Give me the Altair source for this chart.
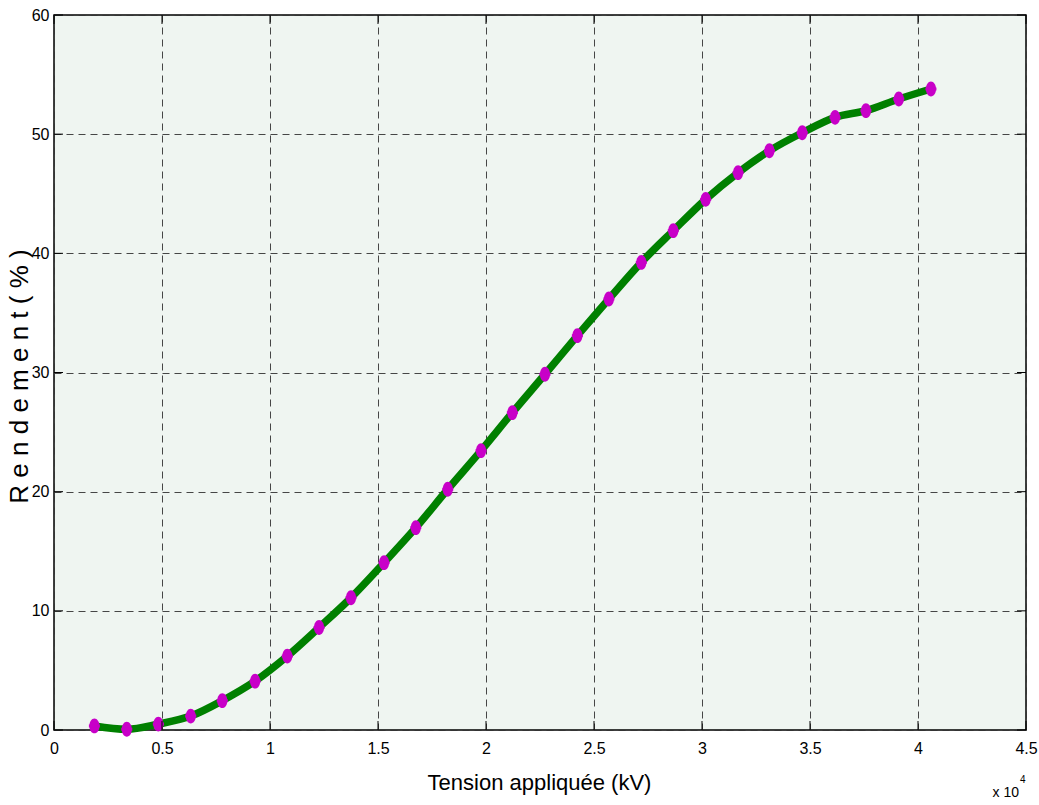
import altair as alt
import pandas as pd

# Data (x in volts, y in %)
tension = [1870, 3370, 4830, 6330, 7790, 9310, 10800, 12270, 13750, 15280,
           16750, 18230, 19770, 21220, 22730, 24230, 25690, 27190, 28670,
           30170, 31670, 33120, 34640, 36160, 37590, 39110, 40600]
rendement = [0.34, 0.06, 0.5, 1.17, 2.46, 4.1, 6.2, 8.6, 11.1, 14.04, 16.98,
             20.2, 23.44, 26.63, 29.85, 33.09, 36.17, 39.24, 41.9, 44.53,
             46.77, 48.61, 50.12, 51.41, 51.97, 52.95, 53.79]
x_ticks = [0, 5000, 10000, 15000, 20000, 25000, 30000, 35000, 40000, 45000]
y_ticks = [0, 10, 20, 30, 40, 50, 60]

W, H = 972, 715
FONT = "Liberation Sans"

df = pd.DataFrame({"x": tension, "y": rendement})
xt = pd.DataFrame({"v": x_ticks})
yt = pd.DataFrame({"v": y_ticks})

xscale = alt.Scale(domain=[0, 45000], nice=False, zero=False)
yscale = alt.Scale(domain=[0, 60], nice=False, zero=False)

xaxis = alt.Axis(values=x_ticks, labelExpr="datum.value / 10000", grid=True,
                 gridDash=[7, 5], gridColor="#333333", gridWidth=1, gridOpacity=0.9,
                 ticks=False, domain=False, labelFont=FONT, labelFontSize=16,
                 labelColor="black", labelPadding=10, labelFlush=False,
                 title="Tension appliquée (kV)", titleFont=FONT, titleFontSize=22,
                 titleFontWeight="normal", titleColor="black", titleBaseline="alphabetic",
                 titleY=59, titleX=485, titleAnchor="middle")
yaxis = alt.Axis(values=y_ticks, grid=True, gridDash=[7, 5], gridColor="#333333",
                 gridWidth=1, gridOpacity=0.9, ticks=False, domain=False,
                 labelFont=FONT, labelFontSize=16, labelColor="black",
                 labelPadding=5, labelFlush=False,
                 title="R e n d e m e n t  ( % )", titleFont=FONT,
                 titleFontSize=26, titleFontWeight="normal", titleColor="black",
                 titleAngle=-90, titleBaseline="alphabetic", titleAlign="center",
                 titleX=-27, titleY=361)

line = alt.Chart(df).mark_line(color="#008000", strokeWidth=7.5,
                               interpolate="monotone").encode(
    x=alt.X("x:Q", scale=xscale, axis=xaxis),
    y=alt.Y("y:Q", scale=yscale, axis=yaxis),
)

ellipse = "M0,-1 A0.68,1 0 1,1 0,1 A0.68,1 0 1,1 0,-1 Z"
pts = alt.Chart(df).mark_point(shape=ellipse, filled=True, color="#c800c8",
                               size=220, opacity=1).encode(
    x=alt.X("x:Q", scale=xscale),
    y=alt.Y("y:Q", scale=yscale),
)
bars = alt.Chart(df).mark_tick(color="#c800c8", thickness=3, size=11,
                               orient="horizontal", opacity=1).encode(
    x=alt.X("x:Q", scale=xscale),
    y=alt.Y("y:Q", scale=yscale),
)

tick_bottom = alt.Chart(xt).mark_rule(color="black", strokeWidth=1).encode(
    x=alt.X("v:Q", scale=xscale), y=alt.value(H), y2=alt.value(H - 9))
tick_top = alt.Chart(xt).mark_rule(color="black", strokeWidth=1).encode(
    x=alt.X("v:Q", scale=xscale), y=alt.value(0), y2=alt.value(9))
tick_left = alt.Chart(yt).mark_rule(color="black", strokeWidth=1).encode(
    y=alt.Y("v:Q", scale=yscale), x=alt.value(0), x2=alt.value(9))
tick_right = alt.Chart(yt).mark_rule(color="black", strokeWidth=1).encode(
    y=alt.Y("v:Q", scale=yscale), x=alt.value(W), x2=alt.value(W - 9))

exp_main = alt.Chart(pd.DataFrame({"t": ["x 10"]})).mark_text(
    font=FONT, fontSize=14, color="black", align="right", baseline="alphabetic"
).encode(text="t:N", x=alt.value(W - 7), y=alt.value(H + 67))
exp_sup = alt.Chart(pd.DataFrame({"t": ["4"]})).mark_text(
    font=FONT, fontSize=10, color="black", align="left", baseline="alphabetic"
).encode(text="t:N", x=alt.value(W - 6), y=alt.value(H + 53))

chart = alt.layer(line, pts, bars, tick_bottom, tick_top, tick_left, tick_right,
                  exp_main, exp_sup).properties(
    width=W, height=H,
    autosize=alt.AutoSizeParams(type="none"),
    padding={"left": 54, "top": 15, "right": 13, "bottom": 75},
    background="white",
).configure_view(fill="#eff5f1", stroke="black", strokeWidth=1.5)

chart.save("out.html", embed_options={"renderer": "svg", "actions": False})
